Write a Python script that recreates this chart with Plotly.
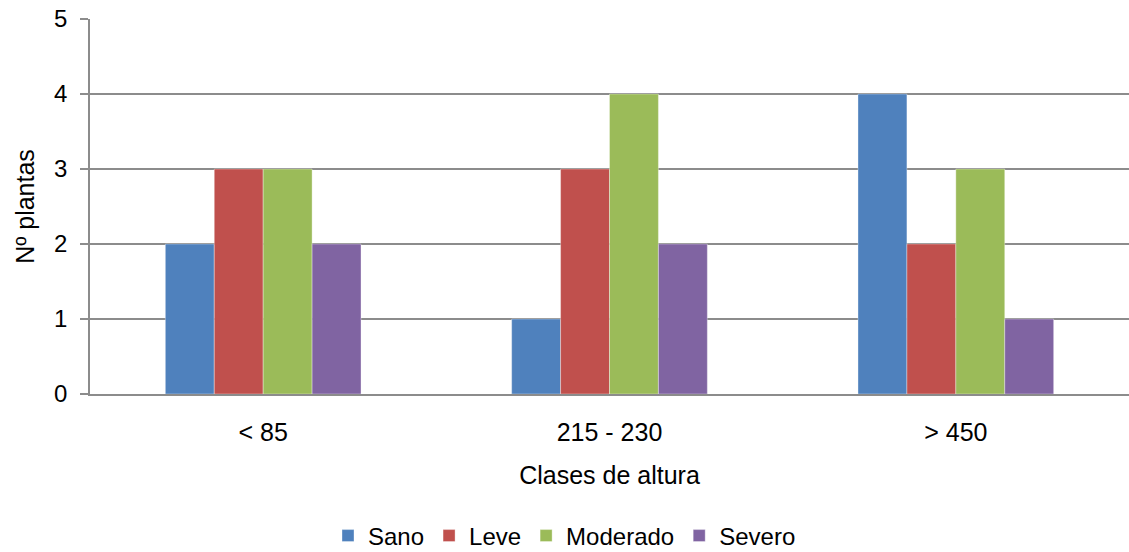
import plotly.graph_objects as go

categories = ["< 85", "215 - 230", "> 450"]
sano = [2, 1, 4]
leve = [3, 3, 2]
moderado = [3, 4, 3]
severo = [2, 2, 1]

series = [
    ("Sano", sano, "#4F81BD"),
    ("Leve", leve, "#C0504D"),
    ("Moderado", moderado, "#9BBB59"),
    ("Severo", severo, "#8064A2"),
]

font_family = "Liberation Sans, Arial, sans-serif"
grid_color = "#8C8C8C"

fig = go.Figure()
for name, values, color in series:
    fig.add_trace(go.Bar(
        name=name, x=categories, y=values,
        marker=dict(color=color, line=dict(color="rgba(255,255,255,0.35)", width=1)),
    ))

fig.update_layout(
    width=1129, height=552,
    margin=dict(l=90, r=0, t=19, b=158),
    paper_bgcolor="white", plot_bgcolor="white",
    barmode="group", bargap=0.435, bargroupgap=0,
    font=dict(family=font_family, size=25, color="black"),
    showlegend=True,
    legend=dict(
        orientation="h", xref="container", yref="container",
        x=0.5, xanchor="center", y=0.029, yanchor="middle",
        font=dict(size=24), itemwidth=30, tracegroupgap=0,
    ),
)

fig.update_xaxes(
    showline=True, linecolor=grid_color, linewidth=1.5,
    showgrid=False, ticks="", ticklabelstandoff=15,
    tickfont=dict(size=25),
    title=dict(text="Clases de altura", font=dict(size=25), standoff=22),
)

fig.update_yaxes(
    range=[0, 5], dtick=1, tick0=0,
    showgrid=True, gridcolor=grid_color, gridwidth=1.5,
    zeroline=False,
    showline=True, linecolor=grid_color, linewidth=1.5,
    ticks="outside", ticklen=8, tickcolor=grid_color, tickwidth=1.5,
    ticklabelstandoff=8, tickfont=dict(size=24),
    title=dict(text="Nº plantas", font=dict(size=25), standoff=12),
)

fig.write_html("out.html")
